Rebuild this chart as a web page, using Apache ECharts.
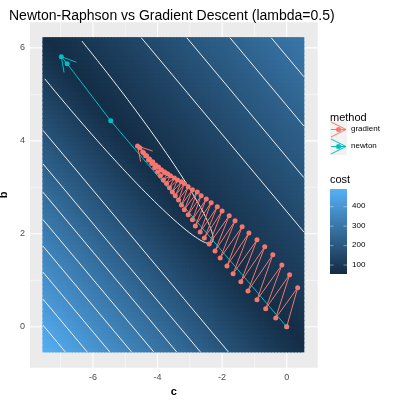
<!DOCTYPE html>
<html><head><meta charset="utf-8">
<script src="https://cdn.jsdelivr.net/npm/echarts@6/dist/echarts.min.js"></script>
<style>html,body{margin:0;padding:0;background:#fff}#c{width:400px;height:400px}</style>
</head><body><div id="c"></div>
<script>
// ---- data ----
const xTicks = [-6, -4, -2, 0];
const yTicks = [0, 2, 4, 6];
const xMinor = [-7, -5, -3, -1];
const yMinor = [1, 3, 5];
const costTicks = [100, 200, 300, 400];
const costRange = [54, 491];
// gradient descent path: lower-left zig points and upper-right zag points
const gLowC = [0,-0.34,-0.65,-0.92,-1.20,-1.42,-1.66,-1.85,-2.06,-2.22,-2.40,-2.55,-2.68,-2.83,-2.92,-3.05,-3.17,-3.26,-3.35,-3.45,-3.54,-3.63,-3.72,-3.82,-3.91,-4.00,-4.09,-4.18,-4.28,-4.37,-4.46,-4.55,-4.62];
const gLowB = [0,0.19,0.39,0.58,0.77,0.97,1.14,1.31,1.48,1.63,1.78,1.91,2.04,2.17,2.30,2.41,2.52,2.62,2.73,2.82,2.90,2.99,3.08,3.16,3.25,3.33,3.42,3.51,3.59,3.68,3.76,3.85,3.89];
const gHighC = [0.34,0.09,-0.15,-0.43,-0.68,-0.92,-1.17,-1.38,-1.60,-1.78,-2.00,-2.15,-2.34,-2.49,-2.65,-2.77,-2.92,-3.05,-3.17,-3.26,-3.38,-3.48,-3.60,-3.69,-3.78,-3.88,-3.97,-4.06,-4.15,-4.25,-4.34,-4.43];
const gHighB = [0.84,1.12,1.33,1.55,1.72,1.87,2.02,2.15,2.28,2.39,2.49,2.58,2.67,2.75,2.82,2.90,2.95,3.01,3.08,3.12,3.16,3.20,3.25,3.29,3.33,3.38,3.44,3.48,3.55,3.61,3.68,3.74];
const newtonC = [0, -5.45, -6.80, -6.98];
const newtonB = [0, 4.43, 5.66, 5.81];
// contour levels expressed as u = b + 0.83*c
const contourU = [-6.23,-5.67,-5.09,-4.53,-3.96,-3.37,-2.76,-2.04,2.48,3.65,4.76,5.82];
// innermost closed contour: narrow ellipse along the valley (centre c, half-length, half-width in u)
const innerCentre = -7.0, innerHalfLen = 4.72, innerHalfW = 0.89;
const slopeK = 0.83;
// ---- geometry of the raster ----
const C0=-7.55, C1=0.53, B0=-0.54, B1=6.22;
const XMIN=-7.95, XMAX=0.96, YMIN=-0.88, YMAX=6.55;
function cost(c,b){const u=b+slopeK*c; const s=u<0?63:37; return 56+s*Math.sqrt(u*u+0.05);}
const heat=[]; const NX=80, NY=70;
for(let i=0;i<NX;i++)for(let j=0;j<NY;j++){
  const c=C0+(i+0.5)*(C1-C0)/NX, b=B0+(j+0.5)*(B1-B0)/NY;
  heat.push([c,b,cost(c,b)]);
}
const dc=(C1-C0)/NX/2, db=(B1-B0)/NY/2;
function straight(u){
  const cs=Math.max(C0,(u-B1)/slopeK), ce=Math.min(C1,(u-B0)/slopeK);
  return [[cs,u-slopeK*cs],[ce,u-slopeK*ce]];
}
function innerPts(){
  const up=[], lo=[]; const N=90;
  for(let k=0;k<=N;k++){
    const t=k/N*Math.PI; const c=innerCentre+innerHalfLen*Math.cos(t); const h=innerHalfW*Math.sin(t);
    if(c<C0)continue;
    const bu=h-slopeK*c, bl=-h-slopeK*c;
    if(bu<=B1)up.push([c,bu]);
    if(bl<=B1)lo.push([c,bl]);
  }
  return up.reverse().concat(lo);
}
const innerContour = innerPts();
const grad=[]; for(let i=0;i<gLowC.length;i++){grad.push([gLowC[i],gLowB[i]]); if(i<gHighC.length)grad.push([gHighC[i],gHighB[i]]);}
const newton=newtonC.map((c,i)=>[c,newtonB[i]]);
const RED='#F8766D', TEAL='#00BFC4';
function arrowSeries(path,color){
  const p=path[path.length-1], q=path[path.length-2];
  return {type:'custom',silent:true,z:8,data:[[p[0],p[1],q[0],q[1]]],
    renderItem:(params,api)=>{
      const a=api.coord([api.value(0),api.value(1)]), b=api.coord([api.value(2),api.value(3)]);
      let dx=b[0]-a[0], dy=b[1]-a[1]; const L=Math.hypot(dx,dy); dx/=L; dy/=L;
      const len=16, an=Math.PI/6;
      const r=(s)=>[a[0]+len*(dx*Math.cos(s)-dy*Math.sin(s)), a[1]+len*(dx*Math.sin(s)+dy*Math.cos(s))];
      return {type:'polyline',shape:{points:[r(an),a,r(-an)]},style:{stroke:color,lineWidth:1,fill:null}};
    }};
}
const gridLines=[
  ...xTicks.map(v=>({d:[[v,YMIN],[v,YMAX]],w:1.1})),...yTicks.map(v=>({d:[[XMIN,v],[XMAX,v]],w:1.1})),
  ...xMinor.map(v=>({d:[[v,YMIN],[v,YMAX]],w:0.5})),...yMinor.map(v=>({d:[[XMIN,v],[XMAX,v]],w:0.5}))
];
const series=[
  {type:'custom',silent:true,z:1,data:heat,encode:{x:0,y:1},
    renderItem:(params,api)=>{
      const c=api.value(0), b=api.value(1);
      const p0=api.coord([c-dc,b+db]), p1=api.coord([c+dc,b-db]);
      return {type:'rect',shape:{x:p0[0]-0.5,y:p0[1]-0.5,width:p1[0]-p0[0]+1,height:p1[1]-p0[1]+1},style:{fill:api.visual('color')}};
    }},
  ...gridLines.map(g=>({type:'line',data:g.d,symbol:'none',silent:true,z:0,lineStyle:{color:'#fff',width:g.w}})),
  ...contourU.map(u=>({type:'line',data:straight(u),symbol:'none',silent:true,z:3,lineStyle:{color:'#f0f0f0',width:1}})),
  {type:'custom',silent:true,z:3,data:[[0]],
    renderItem:(params,api)=>({type:'polyline',shape:{points:innerContour.map(p=>api.coord(p))},style:{stroke:'#f0f0f0',lineWidth:1,fill:null}})},
  {type:'line',data:newton,symbol:'circle',symbolSize:5,silent:true,z:5,itemStyle:{color:TEAL},lineStyle:{color:TEAL,width:1}},
  {type:'line',data:grad,symbol:'circle',symbolSize:5,silent:true,z:6,itemStyle:{color:RED},lineStyle:{color:RED,width:1}},
  arrowSeries(newton,TEAL), arrowSeries(grad,RED)
];
const FONT='Liberation Sans';
const barTop=189, barBot=274;
const tickY=v=>barBot-(v-costRange[0])/(costRange[1]-costRange[0])*(barBot-barTop);
function key(y,color){
  return [
    {type:'rect',shape:{x:330,y:y,width:17,height:17},style:{fill:'#F2F2F2'}},
    {type:'line',shape:{x1:331,y1:y+8.5,x2:346,y2:y+8.5},style:{stroke:color,lineWidth:1}},
    {type:'polyline',shape:{points:[[331,y+1],[346,y+8.5],[331,y+16]]},style:{stroke:color,lineWidth:1,fill:null}},
    {type:'circle',shape:{cx:338.5,cy:y+8.5,r:2.5},style:{fill:color}}
  ];
}
const graphic=[
  {type:'text',x:330,y:112,style:{text:'method',font:'11px '+FONT,fill:'#000'}},
  ...key(121,RED),...key(138,TEAL),
  {type:'text',x:351,y:125,style:{text:'gradient',font:'8px '+FONT,fill:'#000'}},
  {type:'text',x:351,y:142,style:{text:'newton',font:'8px '+FONT,fill:'#000'}},
  {type:'text',x:330,y:174,style:{text:'cost',font:'11px '+FONT,fill:'#000'}},
  {type:'rect',shape:{x:330,y:barTop,width:17,height:barBot-barTop},style:{fill:new echarts.graphic.LinearGradient(0,0,0,1,[{offset:0,color:'#56B1F7'},{offset:1,color:'#132B43'}])}},
  ...costTicks.flatMap(v=>[
    {type:'line',shape:{x1:330,y1:tickY(v),x2:333.5,y2:tickY(v)},style:{stroke:'#fff',lineWidth:0.6,opacity:0.7}},
    {type:'line',shape:{x1:343.5,y1:tickY(v),x2:347,y2:tickY(v)},style:{stroke:'#fff',lineWidth:0.6,opacity:0.7}},
    {type:'text',x:352,y:tickY(v)-4.5,style:{text:String(v),font:'8px '+FONT,fill:'#000'}}
  ])
];
const chart=echarts.init(document.getElementById('c'),null,{renderer:'canvas'});
chart.setOption({
  animation:false,backgroundColor:'#fff',
  title:{text:'Newton-Raphson vs Gradient Descent (lambda=0.5)',left:4,top:4,textStyle:{fontFamily:FONT,fontSize:14,fontWeight:'normal',color:'#000'}},
  grid:{left:30,right:82.3,top:22.3,bottom:32.3,show:true,backgroundColor:'#EBEBEB',borderWidth:0,containLabel:false,outerBoundsMode:'none'},
  xAxis:{type:'value',min:XMIN,max:XMAX,name:'c',nameLocation:'middle',nameGap:19,nameTextStyle:{fontFamily:FONT,fontSize:11,fontWeight:'bold',color:'#000'},
    axisLine:{show:false},splitLine:{show:false},axisTick:{show:true,length:3,customValues:xTicks,lineStyle:{color:'#333'}},
    axisLabel:{customValues:xTicks,fontFamily:FONT,fontSize:9,color:'#4D4D4D',margin:5}},
  yAxis:{type:'value',min:YMIN,max:YMAX,name:'b',nameLocation:'middle',nameGap:17,nameRotate:90,nameTextStyle:{fontFamily:FONT,fontSize:11,fontWeight:'bold',color:'#000'},
    axisLine:{show:false},splitLine:{show:false},axisTick:{show:true,length:3,customValues:yTicks,lineStyle:{color:'#333'}},
    axisLabel:{customValues:yTicks,fontFamily:FONT,fontSize:9,color:'#4D4D4D',margin:5}},
  visualMap:{show:false,type:'continuous',seriesIndex:0,dimension:2,min:costRange[0],max:costRange[1],inRange:{color:['#132B43','#56B1F7']}},
  series, graphic
});
</script></body></html>
